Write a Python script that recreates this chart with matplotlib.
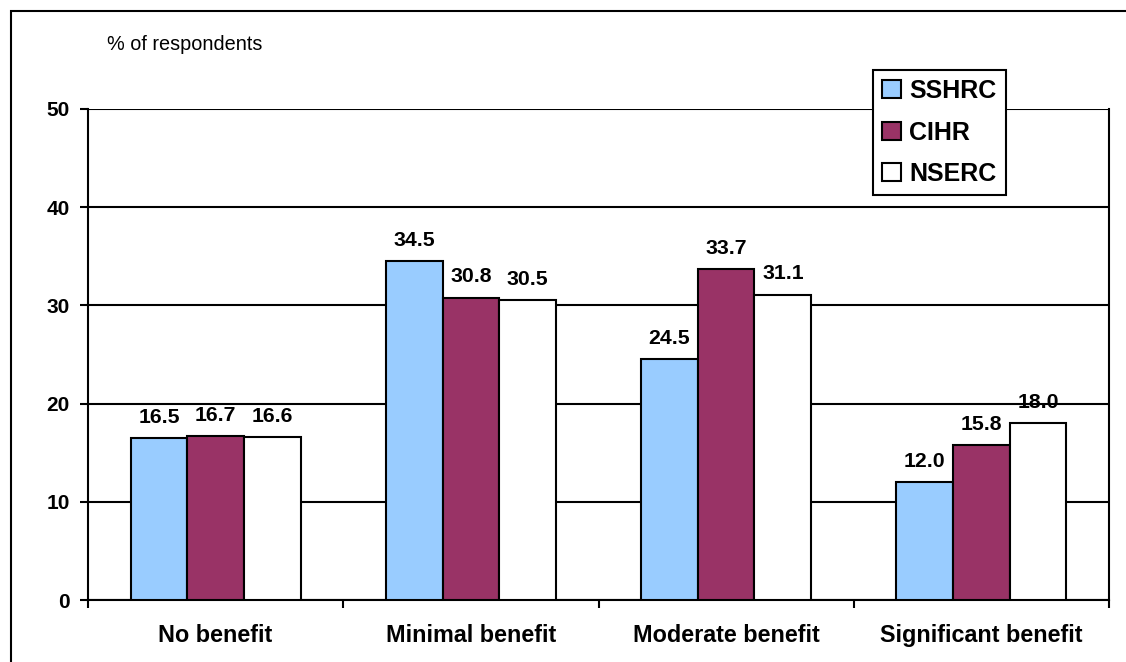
import matplotlib
matplotlib.use("Agg")
import matplotlib.pyplot as plt
from matplotlib.patches import Rectangle
import numpy as np

categories = ["No benefit", "Minimal benefit", "Moderate benefit", "Significant benefit"]
series_names = ["SSHRC", "CIHR", "NSERC"]
sshrc = [16.5, 34.5, 24.5, 12.0]
cihr = [16.7, 30.8, 33.7, 15.8]
nserc = [16.6, 30.5, 31.1, 18.0]
y_ticks = [0, 10, 20, 30, 40, 50]
colors = ["#99CCFF", "#993366", "#FFFFFF"]

plt.rcParams['font.family'] = ['Liberation Sans', 'DejaVu Sans']

W, H = 1126, 662
fig = plt.figure(figsize=(W / 100, H / 100), dpi=100)
ax = fig.add_axes([88 / W, 1 - 600 / H, (1109 - 88) / W, (600 - 109) / H])

# outer border (left/top visible)
fig.patches.append(Rectangle((11 / W, -0.1), 1.2, 1 - 11 / H + 0.1, transform=fig.transFigure,
                             fill=False, edgecolor='black', linewidth=1.5, zorder=0))

n_cat = len(categories)
x = np.arange(n_cat)
bw = 1 / 4.5
all_series = [sshrc, cihr, nserc]
handles = []
for i, (vals, c, name) in enumerate(zip(all_series, colors, series_names)):
    pos = x + (i - 1) * bw
    b = ax.bar(pos, vals, width=bw, color=c, edgecolor='black', linewidth=1.5, zorder=3, label=name)
    handles.append(b)
    for px, v in zip(pos, vals):
        ax.annotate(f"{v:.1f}", (px, v), xytext=(0, 11), textcoords='offset points',
                    ha='center', va='baseline', fontsize=15.3, fontweight='bold', zorder=0.4)

ax.set_xlim(-0.5, n_cat - 0.5)
ax.set_ylim(0, 50)
ax.set_yticks(y_ticks)
ax.set_yticklabels([str(t) for t in y_ticks], fontsize=15, fontweight='bold')
ax.yaxis.grid(True, color='black', linewidth=1.5, zorder=1)
ax.set_axisbelow(True)
for gl in ax.get_ygridlines():
    gl.set_zorder(1)

ax.set_xticks(np.arange(n_cat + 1) - 0.5)
ax.set_xticklabels([])
ax.set_xticks(x, minor=True)
ax.set_xticklabels(categories, minor=True, fontsize=16.8, fontweight='bold')
ax.tick_params(axis='x', which='major', direction='out', length=5.8, width=1.5)
ax.tick_params(axis='x', which='minor', length=0, pad=17)
ax.tick_params(axis='y', direction='out', length=5.8, width=1.5, pad=7.5)

for s in ['left', 'bottom', 'right']:
    ax.spines[s].set_linewidth(1.5)
ax.spines['top'].set_visible(False)

fig.text(107 / W, 1 - 50.5 / H, "% of respondents", fontsize=14.3, ha='left', va='baseline')

leg = ax.legend(handles=handles, labels=series_names, loc='upper left',
                bbox_to_anchor=(873 / W, 1 - 70 / H), bbox_transform=fig.transFigure,
                prop={'weight': 'bold', 'size': 18}, frameon=True, fancybox=False,
                edgecolor='black', framealpha=1, handlelength=0.75, handleheight=0.75,
                handletextpad=0.35, labelspacing=0.7, borderpad=0.36, borderaxespad=0)
leg.get_frame().set_linewidth(1.5)
leg.set_zorder(10)

fig.savefig("out.png", dpi=100)
